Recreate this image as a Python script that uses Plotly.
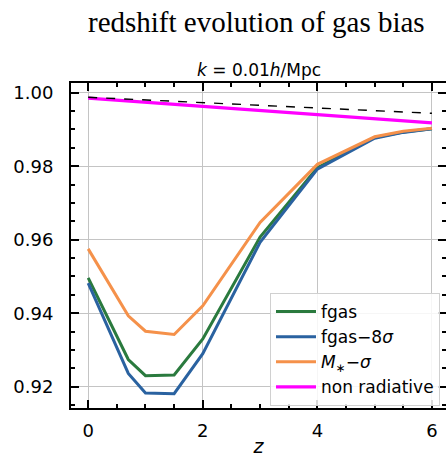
import plotly.graph_objects as go

# Redshift sampling of the snapshots
z = [0, 0.7, 1, 1.5, 2, 3, 4, 5, 5.5, 6]

# Gas bias at k = 0.01 h/Mpc for each run
fgas = [0.9496, 0.9274, 0.9230, 0.9232, 0.9330, 0.9607, 0.9796, 0.9878, 0.9893, 0.9902]
fgas_8sigma = [0.9482, 0.9236, 0.9183, 0.9181, 0.9290, 0.9593, 0.9792, 0.9876, 0.9892, 0.9902]
mstar_sigma = [0.9575, 0.9393, 0.9351, 0.9342, 0.9420, 0.9647, 0.9805, 0.9880, 0.9895, 0.9903]
non_radiative = [0.9985, 0.99772, 0.99738, 0.99682, 0.99627, 0.99515, 0.99403, 0.99292, 0.99236, 0.9918]
reference = [0.99875, 0.99824, 0.99802, 0.99766, 0.99730, 0.99657, 0.99584, 0.99512, 0.99475, 0.99439]

x_ticks = [0, 2, 4, 6]
y_ticks = [0.92, 0.94, 0.96, 0.98, 1.00]

series = [
    ("fgas", fgas, "#2a7a3e"),
    ("fgas−8<i>σ</i>", fgas_8sigma, "#2a62a0"),
    ("<i>M</i><sub>∗</sub>−<i>σ</i>", mstar_sigma, "#f5914a"),
    ("non radiative", non_radiative, "#ff00ff"),
]

fig = go.Figure()
for name, vals, color in series:
    fig.add_trace(go.Scatter(x=z, y=vals, mode="lines", name=name,
                             line=dict(color=color, width=3 if color != "#ff00ff" else 3.2)))
fig.add_trace(go.Scatter(x=z, y=reference, mode="lines", showlegend=False,
                         line=dict(color="black", width=1.4, dash="dash")))

axis_common = dict(
    showline=True, linecolor="black", linewidth=2, mirror="ticks",
    ticks="inside", ticklen=8, tickwidth=2, tickcolor="black",
    showgrid=True, gridcolor="#c4c4c4", gridwidth=1, zeroline=False,
    tickfont=dict(family="DejaVu Sans", size=18, color="black"),
    automargin=False,
)

fig.update_xaxes(
    range=[-0.3, 6.245], tickvals=x_ticks, ticktext=[str(v) for v in x_ticks],
    minor=dict(dtick=0.5, tick0=0, ticks="inside", ticklen=4, tickwidth=1.5,
               tickcolor="black", showgrid=False),
    title=dict(text="<i>z</i>", font=dict(family="DejaVu Sans", size=19, color="black"),
               standoff=11),
    ticklabelstandoff=5,
    **axis_common,
)
fig.update_yaxes(
    range=[0.9142, 1.00264], tickvals=y_ticks, ticktext=[f"{v:.2f}" for v in y_ticks],
    minor=dict(dtick=0.005, tick0=0.9, ticks="inside", ticklen=4, tickwidth=1.5,
               tickcolor="black", showgrid=False),
    ticklabelstandoff=12,
    **axis_common,
)

fig.add_annotation(text="redshift evolution of gas bias", xref="paper", yref="paper",
                   x=(256 - 71) / 375, y=(408 - 22) / 325,
                   showarrow=False, xanchor="center", yanchor="middle",
                   font=dict(family="Liberation Serif", size=29, color="black"))
fig.add_annotation(text="<i>k</i> = 0.01<i>h</i>/Mpc", xref="paper", yref="paper",
                   x=(259 - 71) / 375, y=(408 - 70) / 325,
                   showarrow=False, xanchor="center", yanchor="middle",
                   font=dict(family="DejaVu Sans", size=17, color="black"))

fig.update_layout(
    width=446, height=457,
    margin=dict(l=71, r=0, t=83, b=49, autoexpand=False),
    plot_bgcolor="white", paper_bgcolor="white",
    showlegend=True,
    legend=dict(x=(440 - 71) / 375, y=(408 - 293) / 325, xanchor="right", yanchor="top",
                bgcolor="rgba(255,255,255,0.85)", bordercolor="#d0d0d0", borderwidth=1,
                font=dict(family="DejaVu Sans", size=17, color="black"),
                tracegroupgap=0, itemwidth=40),
)

fig.write_html("out.html")
